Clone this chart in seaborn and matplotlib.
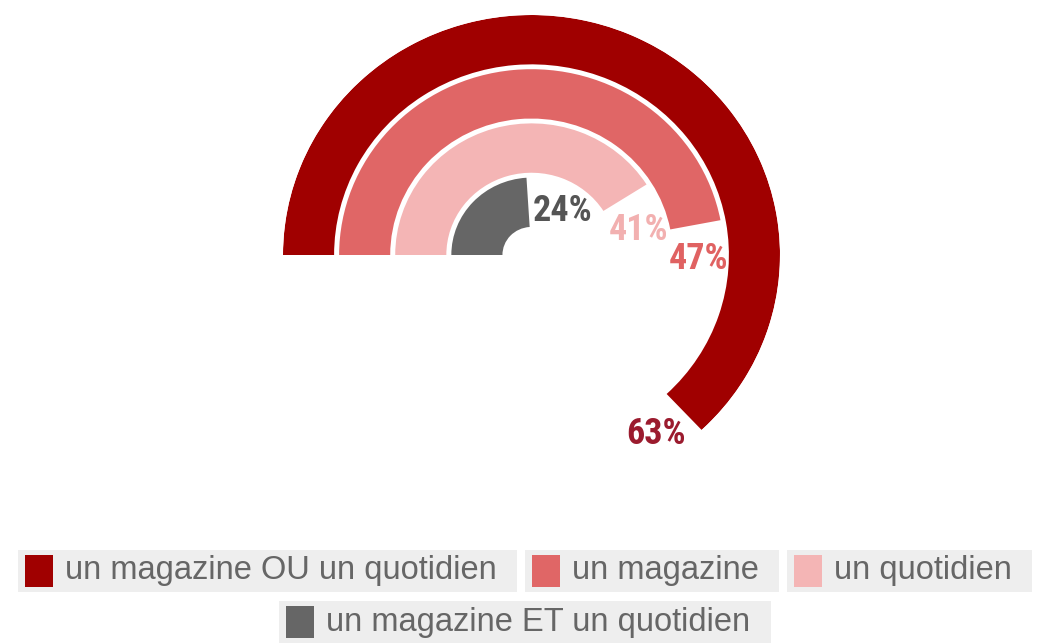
import numpy as np
import matplotlib
matplotlib.use('Agg')
import matplotlib.pyplot as plt
from matplotlib.patches import Rectangle
import seaborn as sns

# data
labels = ['un magazine OU un quotidien', 'un magazine', 'un quotidien',
          'un magazine ET un quotidien']
values = [63, 47, 41, 24]
ring_colors = ['#a00000', '#e06666', '#f4b5b5', '#666666']
text_colors = ['#9b1b2e', '#e06262', '#f2b0b0', '#555555']

sns.set_style('white')
W, H = 1042, 644
fig = plt.figure(figsize=(W / 100, H / 100), dpi=100)

# polar axes placed so the ring centre sits where it does in the original
cx, cy = 531.5, 255
rx, ry = 248.5, 240
ax = fig.add_axes([(cx - rx) / W, (H - cy - ry) / H, 2 * rx / W, 2 * ry / H],
                  projection='polar')
ax.set_aspect('auto')
ax.set_theta_offset(np.pi)
ax.set_theta_direction(-1)
ax.set_ylim(0, 248)
ax.set_axis_off()

ring_w = 51
step = 56
outer = 248
r_mid = [outer - ring_w / 2 - i * step for i in range(len(values))]
theta_end = np.array(values) / 100 * 2 * np.pi

ax.barh(r_mid, theta_end, left=0, height=ring_w, color=ring_colors,
        edgecolor='none')

# value labels just past the end of each ring
num_font = ['Roboto Condensed', 'Liberation Sans Narrow', 'DejaVu Sans']
for v, r, th, c in zip(values, r_mid, theta_end, text_colors):
    ax.text(th + 36 / r, r, f'{v}%', color=c, fontsize=26, fontweight='bold',
            family=num_font, fontstretch='condensed', ha='center', va='center')

# legend: boxed items on two rows
renderer = fig.canvas.get_renderer()


def px(x, y):
    return x / W, 1 - y / H


rows = [[0, 1, 2], [3]]
row_y = [571, 622]
box_h, sw_w, sw_h = 42, 28, 32
pad_l, gap, pad_r, item_gap = 7, 12, 20, 8
legend_cx = 525

for row, yc in zip(rows, row_y):
    texts, widths = [], []
    for i in row:
        t = fig.text(0, 0, labels[i], fontsize=23.5, color='#666666',
                     va='center', ha='left', family='Liberation Sans', zorder=3)
        tw = t.get_window_extent(renderer).width
        texts.append(t)
        widths.append(pad_l + sw_w + gap + tw + pad_r)
    total = sum(widths) + item_gap * (len(row) - 1)
    x = legend_cx - total / 2
    for t, w, i in zip(texts, widths, row):
        fig.patches.append(Rectangle(px(x, yc + box_h / 2), w / W, box_h / H,
                                     transform=fig.transFigure, fc='#eeeeee',
                                     ec='none', zorder=1))
        fig.patches.append(Rectangle(px(x + pad_l, yc + sw_h / 2), sw_w / W, sw_h / H,
                                     transform=fig.transFigure, fc=ring_colors[i],
                                     ec='none', zorder=2))
        t.set_position(px(x + pad_l + sw_w + gap, yc))
        x += w + item_gap

fig.savefig('out.png', dpi=100)
